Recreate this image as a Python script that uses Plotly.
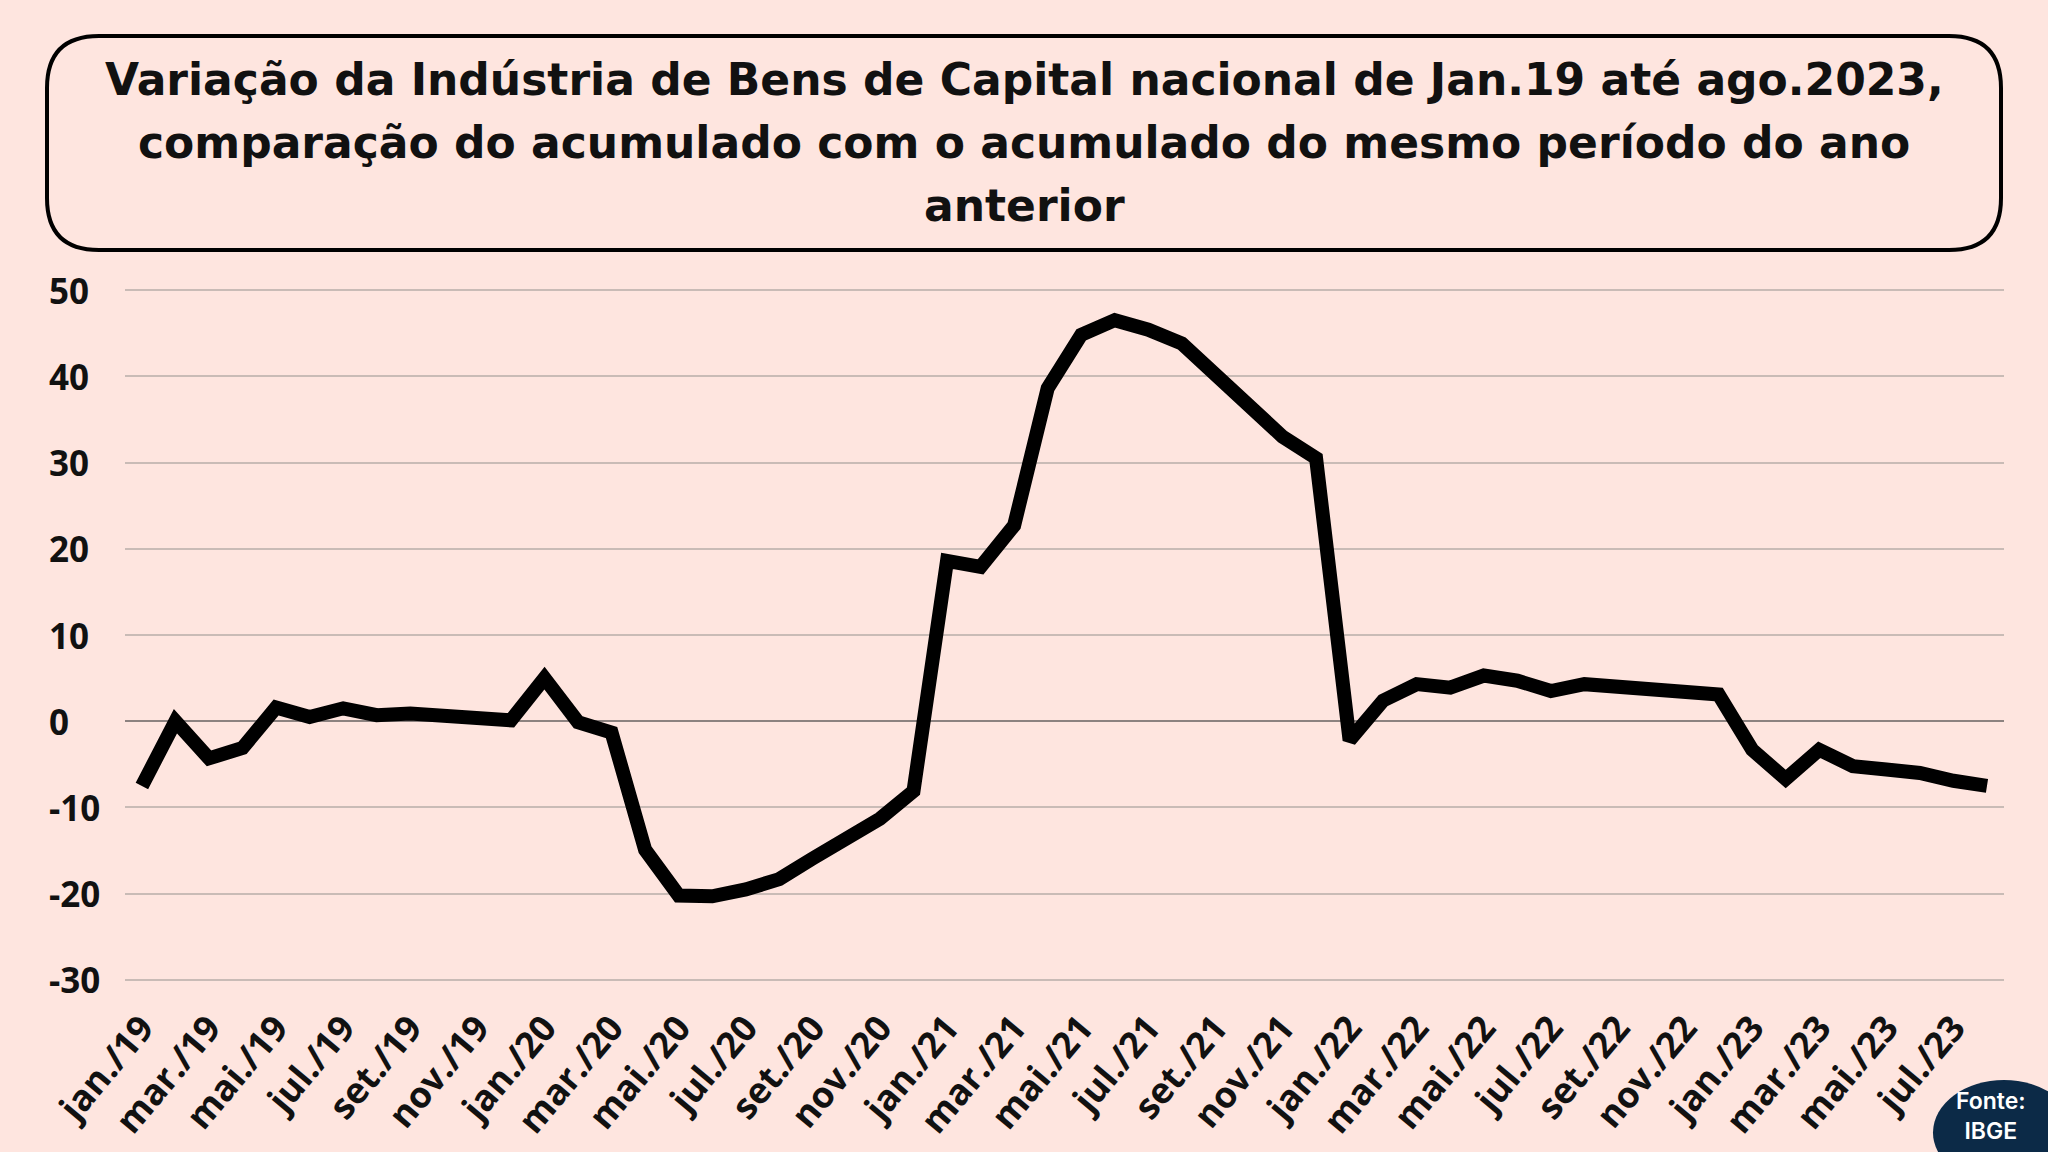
import plotly.graph_objects as go

W, H = 2048, 1152

months = ["jan", "fev", "mar", "abr", "mai", "jun", "jul", "ago", "set", "out", "nov", "dez"]
years = ["19", "20", "21", "22", "23"]

v2019 = [-7.5, 0.0, -4.3, -3.1, 1.6, 0.5, 1.5, 0.7, 0.9, 0.6, 0.4, 0.1]
v2020 = [5.0, -0.1, -1.3, -14.9, -20.2, -20.3, -19.5, -18.3, -15.9, -13.6, -11.3, -8.1]
v2021 = [18.6, 17.9, 22.7, 38.6, 44.8, 46.5, 45.4, 43.8, 40.2, 36.1, 33.0, 30.5]
v2022 = [-2.2, 2.4, 4.3, 3.9, 5.3, 4.7, 3.5, 4.3, 4.1, 3.5, 3.6, 3.1]
v2023 = [-3.3, -6.7, -3.3, -5.2, -5.6, -6.0, -6.9, -7.5]

values = v2019 + v2020 + v2021 + v2022 + v2023
categories = [f"{months[i % 12]}./{years[i // 12]}" for i in range(len(values))]
tick_labels = categories[::2]
y_ticks = [-30, -20, -10, 0, 10, 20, 30, 40, 50]

title_lines = [
    "Variação da Indústria de Bens de Capital nacional de Jan.19 até ago.2023,",
    "comparação do acumulado com o acumulado do mesmo período do ano",
    "anterior",
]

BG = "#FEE5DF"


def px(x):
    return x / W


def py(y):
    return 1 - y / H


fig = go.Figure()
fig.add_trace(go.Scatter(
    x=categories, y=values, mode="lines",
    line=dict(color="#000000", width=14),
    hoverinfo="skip", showlegend=False,
))

# rounded title box (pixel geometry converted to paper coords)
x0, x1, y0, y1, r = 47, 2001, 36, 250, 52
path = (
    f"M {px(x0 + r)},{py(y0)} L {px(x1 - r)},{py(y0)} "
    f"Q {px(x1)},{py(y0)} {px(x1)},{py(y0 + r)} "
    f"L {px(x1)},{py(y1 - r)} "
    f"Q {px(x1)},{py(y1)} {px(x1 - r)},{py(y1)} "
    f"L {px(x0 + r)},{py(y1)} "
    f"Q {px(x0)},{py(y1)} {px(x0)},{py(y1 - r)} "
    f"L {px(x0)},{py(y0 + r)} "
    f"Q {px(x0)},{py(y0)} {px(x0 + r)},{py(y0)} Z"
)
shapes = [
    dict(type="path", xref="paper", yref="paper", path=path,
         line=dict(color="#000000", width=4), fillcolor="rgba(0,0,0,0)", layer="above"),
    dict(type="circle", xref="paper", yref="paper",
         x0=px(1933), x1=px(2075), y0=py(1185), y1=py(1080),
         fillcolor="#0C2A47", line=dict(width=0), layer="above"),
]

annotations = []
for i, t in enumerate(title_lines):
    annotations.append(dict(
        text=t, xref="paper", yref="paper", x=0.5, y=py(80 + 63 * i),
        xanchor="center", yanchor="middle", showarrow=False,
        font=dict(family="DejaVu Sans", size=44, color="#111111", weight=700),
    ))
# left-aligned y tick labels
for v in y_ticks:
    annotations.append(dict(
        text=str(v), xref="paper", yref="y", x=px(47), y=v,
        xanchor="left", yanchor="middle", showarrow=False,
        font=dict(family="Open Sans", size=35, color="#111111", weight=700),
    ))
annotations.append(dict(
    text="Fonte:<br>IBGE", xref="paper", yref="paper", x=px(1991), y=py(1116),
    xanchor="center", yanchor="middle", showarrow=False, align="center",
    font=dict(family="Inter", size=23, color="#FFFFFF", weight=600),
))

fig.update_layout(
    width=W, height=H,
    paper_bgcolor=BG, plot_bgcolor=BG,
    margin=dict(l=0, r=0, t=0, b=0, autoexpand=False),
    shapes=shapes, annotations=annotations,
    xaxis=dict(
        domain=[0.0611, 0.9784], type="category", range=[-0.5, len(values) - 0.5],
        tickmode="array", tickvals=tick_labels, ticktext=tick_labels,
        tickangle=-50, showgrid=False, zeroline=False, showline=False, ticks="",
        tickfont=dict(family="Open Sans", size=36, color="#111111", weight=700),
        ticklabelstandoff=14, automargin=False,
    ),
    yaxis=dict(
        domain=[py(984.3), py(285.7)], range=[-30.5, 50.5],
        tickmode="array", tickvals=y_ticks,
        showticklabels=False,
        showgrid=True, gridcolor="#C9BBB6", gridwidth=2,
        zeroline=True, zerolinecolor="#8C8280", zerolinewidth=2,
        showline=False, ticks="", automargin=False,
    ),
)

fig.write_html("out.html", config={"displayModeBar": False},
               post_script="document.body.style.margin='0';")
